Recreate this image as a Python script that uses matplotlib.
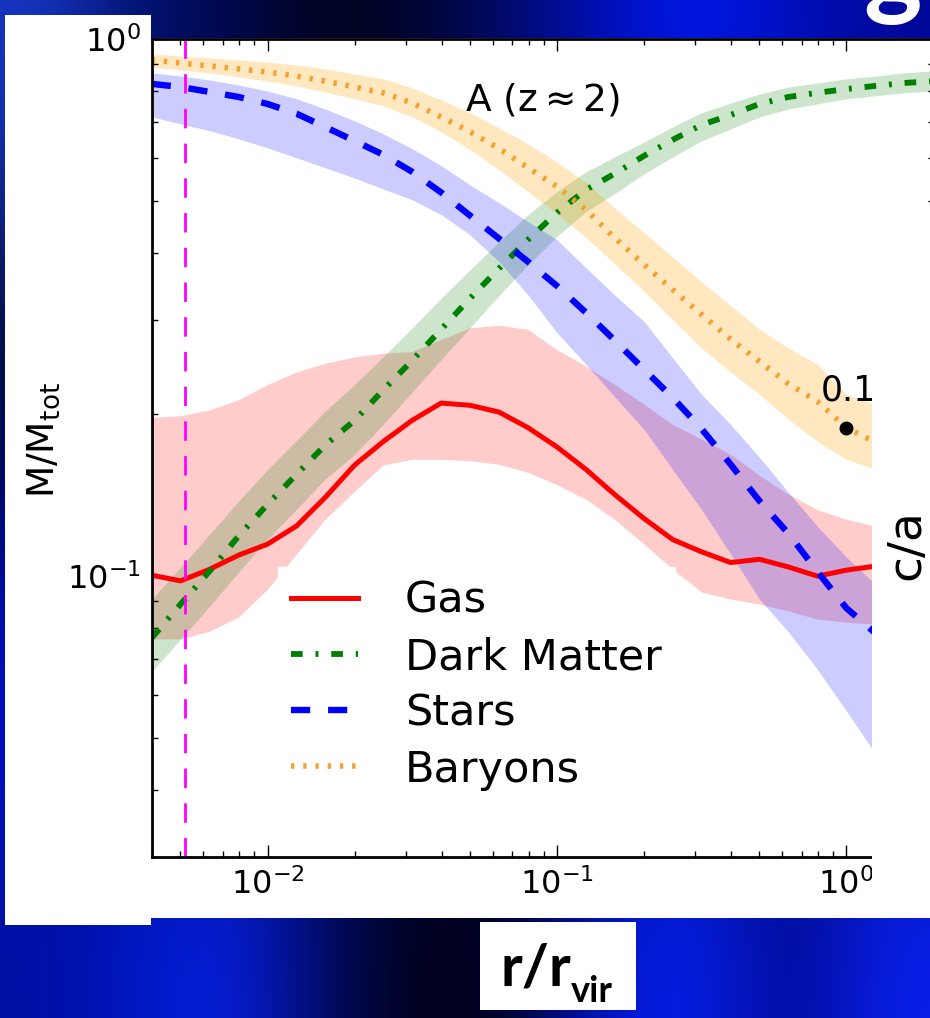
import matplotlib
matplotlib.use("Agg")
import matplotlib.pyplot as plt
import numpy as np
from matplotlib.colors import to_rgb
from matplotlib.patches import Rectangle
from matplotlib.ticker import NullFormatter

# radius bins, r / r_vir (0.1 dex spacing)
r = [0.00398, 0.00501, 0.00631, 0.00794, 0.0100, 0.0126, 0.0158, 0.0200, 0.0251, 0.0316,
     0.0398, 0.0501, 0.0631, 0.0794, 0.100, 0.126, 0.158, 0.200, 0.251, 0.316,
     0.398, 0.501, 0.631, 0.794, 1.00, 1.26, 1.58, 2.00]

gas = [0.1004, 0.098, 0.103, 0.1094, 0.1147, 0.124, 0.140, 0.161, 0.178, 0.195,
       0.210, 0.208, 0.202, 0.189, 0.174, 0.158, 0.142, 0.128, 0.117, 0.111,
       0.106, 0.1075, 0.104, 0.100, 0.1026, 0.1044, 0.105, 0.104]
gas_lo = [0.0764, 0.0764, 0.079, 0.0839, 0.0946, 0.110, 0.1276, 0.144, 0.161, 0.165,
          0.165, 0.164, 0.1615, 0.156, 0.148, 0.139, 0.1276, 0.1147, 0.103, 0.0934,
          0.0906, 0.0887, 0.0861, 0.0832, 0.0821, 0.0814, 0.081, 0.080]
gas_hi = [0.1974, 0.199, 0.204, 0.213, 0.2275, 0.240, 0.249, 0.256, 0.260, 0.262,
          0.276, 0.290, 0.293, 0.288, 0.264, 0.246, 0.2275, 0.209, 0.1916, 0.180,
          0.1685, 0.154, 0.142, 0.133, 0.1276, 0.124, 0.122, 0.120]

dm = [0.0767, 0.0887, 0.1022, 0.1187, 0.136, 0.1547, 0.1752, 0.195, 0.222, 0.252,
      0.288, 0.329, 0.374, 0.423, 0.475, 0.524, 0.561, 0.606, 0.649, 0.692,
      0.722, 0.757, 0.780, 0.794, 0.807, 0.818, 0.828, 0.835]
dm_lo = [0.0663, 0.0764, 0.0879, 0.1017, 0.1172, 0.1332, 0.1515, 0.1685, 0.1916, 0.220,
         0.253, 0.290, 0.333, 0.380, 0.429, 0.477, 0.515, 0.561, 0.603, 0.646,
         0.680, 0.716, 0.741, 0.757, 0.774, 0.784, 0.794, 0.800]
dm_hi = [0.0906, 0.1039, 0.1197, 0.1378, 0.158, 0.179, 0.2026, 0.2275, 0.256, 0.290,
         0.329, 0.372, 0.419, 0.471, 0.520, 0.566, 0.603, 0.643, 0.686, 0.729,
         0.760, 0.790, 0.814, 0.828, 0.843, 0.853, 0.865, 0.872]

stars = [0.825, 0.814, 0.797, 0.780, 0.757, 0.726, 0.686, 0.646, 0.609, 0.566,
         0.518, 0.469, 0.425, 0.385, 0.347, 0.3095, 0.275, 0.2425, 0.215, 0.188,
         0.1615, 0.138, 0.120, 0.102, 0.0872, 0.0783, 0.070, 0.064]
stars_lo = [0.716, 0.695, 0.675, 0.652, 0.627, 0.601, 0.576, 0.551, 0.526, 0.502,
            0.471, 0.432, 0.385, 0.334, 0.284, 0.248, 0.216, 0.1875, 0.158, 0.133,
            0.110, 0.0906, 0.0787, 0.0671, 0.0561, 0.0467, 0.040, 0.035]
stars_hi = [0.865, 0.853, 0.839, 0.821, 0.800, 0.774, 0.741, 0.704, 0.666, 0.625,
            0.581, 0.535, 0.4955, 0.457, 0.423, 0.375, 0.334, 0.298, 0.255, 0.218,
            0.1916, 0.1664, 0.1432, 0.1238, 0.1085, 0.0966, 0.088, 0.080]

bary = [0.914, 0.902, 0.891, 0.880, 0.868, 0.853, 0.835, 0.814, 0.794, 0.760,
        0.716, 0.672, 0.625, 0.576, 0.531, 0.481, 0.427, 0.380, 0.3415, 0.307,
        0.276, 0.251, 0.228, 0.2115, 0.189, 0.1775, 0.170, 0.165]
bary_lo = [0.887, 0.876, 0.865, 0.850, 0.835, 0.818, 0.797, 0.774, 0.751, 0.716,
           0.672, 0.622, 0.571, 0.520, 0.473, 0.427, 0.382, 0.339, 0.300, 0.266,
           0.240, 0.218, 0.1957, 0.1782, 0.165, 0.158, 0.152, 0.148]
bary_hi = [0.938, 0.930, 0.922, 0.914, 0.906, 0.895, 0.880, 0.861, 0.843, 0.811,
           0.770, 0.729, 0.683, 0.638, 0.590, 0.540, 0.485, 0.436, 0.393, 0.353,
           0.319, 0.288, 0.266, 0.248, 0.218, 0.2088, 0.200, 0.195]

r_soft = 0.0052          # vertical magenta line
ca_r, ca_val = [1.0], [0.189]   # c/a marker

# slide background colours (rows top -> bottom)
bg_colors = [
    ['#1838c8', '#001070', '#000850', '#000218', '#000530', '#000a70', '#0010c0', '#0018f8', '#0010c0', '#0008a0'],
    ['#000008', '#000830', '#000830', '#000830', '#000830', '#000830', '#000830', '#000830', '#000830', '#000830'],
    ['#0010e0', '#000a60', '#000a60', '#000a60', '#000a60', '#000a60', '#000a60', '#000a60', '#000a60', '#000a60'],
    ['#0010a0', '#0018c8', '#0820e8', '#000a60', '#000010', '#000020', '#0018d8', '#0820f0', '#000a90', '#0a20f0'],
]

W, H = 930., 1018.
fig = plt.figure(figsize=(9.3, 10.18), dpi=100)

bg = fig.add_axes([0, 0, 1, 1], zorder=-10)
img = np.array([[to_rgb(c) for c in row] for row in bg_colors])
bg.imshow(img, extent=[0, 1, 0, 1], aspect='auto', interpolation='bicubic')
bg.axis('off')


def px_rect(x0, y0, x1, y1, z):
    return Rectangle((x0 / W, 1 - y1 / H), (x1 - x0) / W, (y1 - y0) / H,
                     transform=fig.transFigure, facecolor='white', edgecolor='none', zorder=z)


fig.patches.append(px_rect(5, 15, 151, 925, -5))
fig.patches.append(px_rect(148, 38, 930, 918, -5))

ax = fig.add_axes([151.7 / W, 1 - 857 / H, (933.5 - 151.7) / W, (857 - 39) / H])

ax.fill_between(r, gas_lo, gas_hi, color='red', alpha=0.2, lw=0)
ax.fill_between(r, dm_lo, dm_hi, color='green', alpha=0.2, lw=0)
ax.fill_between(r, stars_lo, stars_hi, color='blue', alpha=0.2, lw=0)
ax.fill_between(r, bary_lo, bary_hi, color='orange', alpha=0.25, lw=0)

ax.plot(r, gas, color='red', lw=3.6, label='Gas')
ax.plot(r, dm, color='green', lw=4.2, ls=(0, (2.0, 2.2, 0.5, 2.2)), label='Dark Matter')
ax.plot(r, stars, color='blue', lw=4.6, ls=(0, (3.0, 2.8)), label='Stars')
ax.plot(r, bary, color='#f5a030', lw=4.0, ls=(0, (0.6, 1.6)), label='Baryons')
ax.axvline(r_soft, color='#ff00ff', lw=2, ls=(0, (7, 5.5)))

ax.plot(ca_r, ca_val, 'o', color='black', ms=9)
ax.text(0.815, 0.222, '0.1', fontsize=25, ha='left', va='center')
ax.text(0.089, 0.77, r'A (z$\approx$2)', fontsize=27, ha='center', va='center')

ax.set_xscale('log')
ax.set_yscale('log')
ax.set_xlim(r[0], r[-1])
ax.set_ylim(0.03, 1.0)
ax.xaxis.set_minor_formatter(NullFormatter())
ax.yaxis.set_minor_formatter(NullFormatter())
ax.tick_params(which='both', direction='in', top=True, right=True, labelsize=23, width=1)
ax.tick_params(which='major', length=8.5, pad=8)
ax.tick_params(which='minor', length=4)
for s in ax.spines.values():
    s.set_linewidth(2)

ax.set_ylabel(r'M/M$_{\mathrm{tot}}$', fontsize=27)
ax.yaxis.set_label_coords(-0.115, 0.51)

ax.legend(loc='upper left', bbox_to_anchor=(0.1616, 0.3545), borderaxespad=0, fontsize=31,
          handlelength=1.55, handletextpad=1.1, borderpad=0.3, labelspacing=0.33,
          frameon=True, fancybox=False, framealpha=1, edgecolor='white', facecolor='white')

# white panel of the neighbouring c/a chart
fig.patches.append(px_rect(872, 250, 930, 918, 5))
fig.text(907 / W, 1 - 545 / H, 'c/a', rotation=90, fontsize=34, ha='center', va='center', zorder=6)

# slide x label box
fig.patches.append(px_rect(480, 922, 636, 1010, 6))
fig.text(500 / W, 1 - 985 / H, 'r/r', fontsize=42, weight='bold', family='Lato', va='baseline', zorder=7)
fig.text(571 / W, 1 - 1002 / H, 'vir', fontsize=26, weight='bold', family='Lato', va='baseline', zorder=7)

# tail of the slide title
fig.text(893 / W, 1 - 5 / H, 'g', fontsize=80, weight='bold', family='Lato', color='white',
         ha='center', va='baseline', zorder=6)

fig.savefig('out.png', dpi=100)
